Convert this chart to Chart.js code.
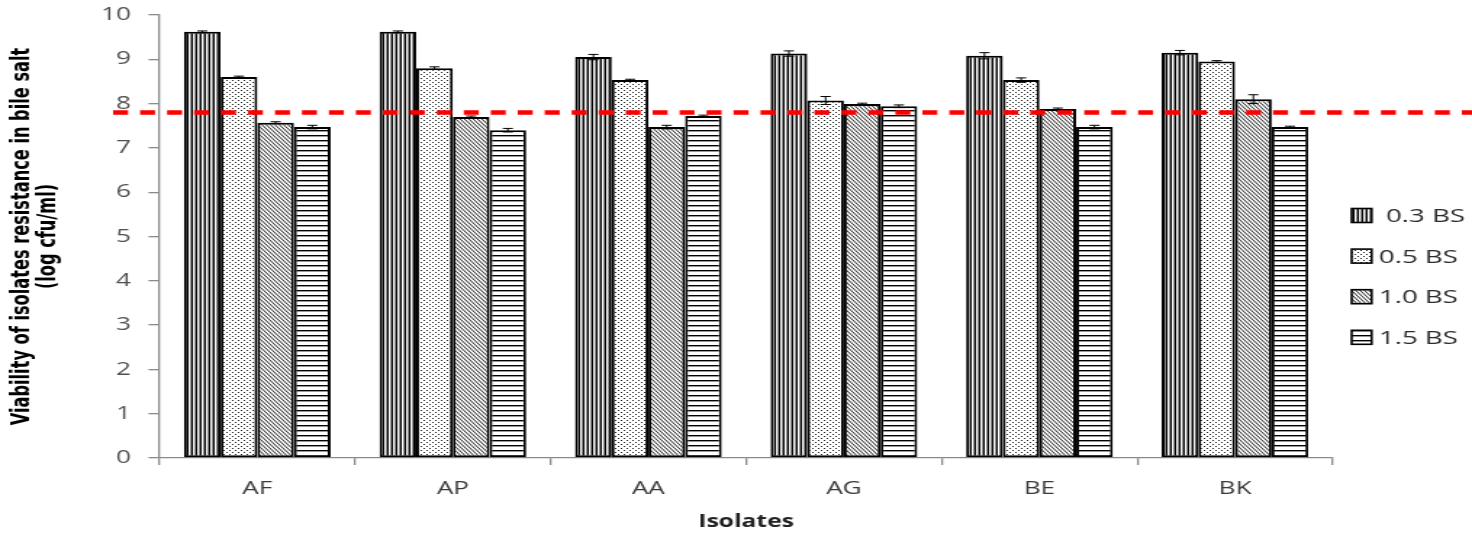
<!DOCTYPE html>
<html>
<head>
<meta charset="utf-8">
<title>Viability of isolates in bile salt</title>
<script src="https://cdn.jsdelivr.net/npm/chart.js@4.4.1/dist/chart.umd.min.js"></script>
<style>
  html, body { margin: 0; padding: 0; background: #fff; overflow: hidden; }
</style>
</head>
<body>
<!-- the drawing surface is rendered narrow and widened on screen -->
<canvas id="c" width="1015" height="533" style="display:block;width:1472px;height:533px"></canvas>
<script>
// Isolates on the x axis
const isolates = ['AF', 'AP', 'AA', 'AG', 'BE', 'BK'];
// Bile-salt concentrations (series)
const seriesLabels = [' 0.3 BS', '0.5 BS', '1.0 BS', '1.5 BS'];

// Viable counts, log cfu/ml
const bs03 = [9.62, 9.62, 9.05, 9.13, 9.08, 9.15];
const bs05 = [8.60, 8.80, 8.53, 8.07, 8.53, 8.95];
const bs10 = [7.57, 7.70, 7.47, 7.99, 7.88, 8.10];
const bs15 = [7.47, 7.40, 7.72, 7.94, 7.47, 7.47];

// Standard deviations
const err03 = [0.02, 0.02, 0.06, 0.06, 0.07, 0.05];
const err05 = [0.02, 0.03, 0.02, 0.09, 0.05, 0.02];
const err10 = [0.02, 0.02, 0.04, 0.02, 0.02, 0.10];
const err15 = [0.04, 0.04, 0.02, 0.03, 0.04, 0.02];

// Reference level and y axis range
const threshold = 7.8;
const yMin = 0, yMax = 10, yStep = 1;

const canvas = document.getElementById('c');
const mainCtx = canvas.getContext('2d');

// Monochrome fill patterns
function makePattern(w, h, draw) {
  const t = document.createElement('canvas');
  t.width = w; t.height = h;
  const g = t.getContext('2d');
  g.fillStyle = '#fff';
  g.fillRect(0, 0, w, h);
  draw(g, w, h);
  return mainCtx.createPattern(t, 'repeat');
}
const patVertical = makePattern(3, 1, g => {
  g.fillStyle = '#000'; g.fillRect(0, 0, 1, 1);
  g.fillStyle = '#8a8a8a'; g.fillRect(2, 0, 1, 1);
});
const patDots = makePattern(4, 4, g => {
  g.fillStyle = '#222';
  g.fillRect(0, 0, 1, 1);
  g.fillRect(2, 2, 1, 1);
});
const patDiagonal = makePattern(3, 4, g => {
  g.strokeStyle = '#000';
  g.lineWidth = 0.85;
  for (let k = -2; k <= 2; k++) {
    g.beginPath();
    g.moveTo(k * 3 - 3, -4);
    g.lineTo(k * 3 + 6, 8);
    g.stroke();
  }
});
const patHorizontal = makePattern(1, 5, g => {
  g.fillStyle = '#000'; g.fillRect(0, 0, 1, 1);
  g.fillStyle = '#999'; g.fillRect(0, 1, 1, 1);
});

const values = [bs03, bs05, bs10, bs15];
const errors = [err03, err05, err10, err15];
const fills = [patVertical, patDots, patDiagonal, patHorizontal];

const datasets = seriesLabels.map((label, i) => ({
  label,
  data: values[i],
  errors: errors[i],
  backgroundColor: fills[i],
  borderColor: '#000',
  borderWidth: 2,
  borderSkipped: false,
  categoryPercentage: 0.75,
  barPercentage: 1.0
}));

// Error bars with caps
const errorBars = {
  id: 'errorBars',
  afterDatasetsDraw(chart) {
    const ctx = chart.ctx;
    const y = chart.scales.y;
    ctx.save();
    ctx.strokeStyle = '#000';
    ctx.lineWidth = 1;
    chart.data.datasets.forEach((ds, i) => {
      chart.getDatasetMeta(i).data.forEach((bar, j) => {
        const v = ds.data[j], e = ds.errors[j];
        const yt = y.getPixelForValue(v + e);
        const yb = y.getPixelForValue(v - e);
        const cap = 3.5;
        ctx.beginPath();
        ctx.moveTo(bar.x, yt); ctx.lineTo(bar.x, yb);
        ctx.moveTo(bar.x - cap, yt); ctx.lineTo(bar.x + cap, yt);
        ctx.moveTo(bar.x - cap, yb); ctx.lineTo(bar.x + cap, yb);
        ctx.stroke();
      });
    });
    ctx.restore();
  }
};

// Dashed red reference line across the figure
const thresholdLine = {
  id: 'thresholdLine',
  afterDatasetsDraw(chart, args, opts) {
    const ctx = chart.ctx;
    const yp = chart.scales.y.getPixelForValue(opts.value);
    ctx.save();
    ctx.strokeStyle = '#ff0000';
    ctx.lineWidth = 4.5;
    ctx.setLineDash([10.3, 8.3]);
    ctx.beginPath();
    ctx.moveTo(opts.startX, yp);
    ctx.lineTo(chart.width, yp);
    ctx.stroke();
    ctx.restore();
  }
};

// Legend column on the right
const sideLegend = {
  id: 'sideLegend',
  afterDraw(chart, args, opts) {
    const ctx = chart.ctx;
    ctx.save();
    ctx.font = opts.font;
    ctx.textBaseline = 'middle';
    ctx.textAlign = 'left';
    chart.data.datasets.forEach((ds, i) => {
      const cy = opts.firstY + i * opts.spacing;
      ctx.fillStyle = ds.backgroundColor;
      ctx.fillRect(opts.x, cy - opts.boxH / 2, opts.boxW, opts.boxH);
      ctx.strokeStyle = '#000';
      ctx.lineWidth = 1.6;
      ctx.strokeRect(opts.x, cy - opts.boxH / 2, opts.boxW, opts.boxH);
      ctx.fillStyle = opts.color;
      ctx.fillText(ds.label, opts.x + opts.boxW + opts.gap, cy + 1);
    });
    ctx.restore();
  }
};

new Chart(canvas, {
  type: 'bar',
  data: { labels: isolates, datasets },
  plugins: [errorBars, thresholdLine, sideLegend],
  options: {
    responsive: false,
    animation: false,
    devicePixelRatio: 1,
    layout: { padding: { top: 15, right: 96, bottom: 0, left: 0 } },
    plugins: {
      legend: { display: false },
      tooltip: { enabled: false },
      thresholdLine: { value: threshold, startX: 78 },
      sideLegend: {
        x: 932, firstY: 215.5, spacing: 40.6, boxW: 13.8, boxH: 14, gap: 5,
        font: '19px "Open Sans"', color: '#2a2a2a'
      }
    },
    scales: {
      x: {
        afterFit(s) { s.height = 75; },
        border: { display: true, color: '#8a8a8a', width: 1.3 },
        grid: { display: true, drawOnChartArea: false, drawTicks: true, tickLength: 7, color: '#8a8a8a', lineWidth: 1.3, offset: true },
        ticks: { color: '#3a3a3a', font: { family: 'Open Sans', size: 18 }, padding: 13 },
        title: {
          display: true, text: 'Isolates', color: '#222',
          font: { family: 'Open Sans', size: 17, weight: 'bold' },
          padding: { top: 0, bottom: 1 }
        }
      },
      y: {
        min: yMin, max: yMax,
        afterFit(s) { s.width = 110; s.paddingTop = 0; s.paddingBottom = 0; },
        border: { display: true, color: '#8a8a8a', width: 1.3 },
        grid: { display: true, drawOnChartArea: false, drawTicks: true, tickLength: 7.6, color: '#8a8a8a', lineWidth: 1.3 },
        ticks: { stepSize: yStep, color: '#505050', font: { family: 'Open Sans', size: 18 }, padding: 12 },
        title: {
          display: true,
          text: ['Viability of isolates resistance in bile salt', '(log cfu/ml)'],
          color: '#000',
          font: { family: '"Liberation Sans Narrow", "DejaVu Sans Condensed", sans-serif', size: 18, weight: 'bold', lineHeight: 1.0 },
          padding: { top: 6, bottom: 0 }
        }
      }
    }
  }
});
</script>
</body>
</html>
